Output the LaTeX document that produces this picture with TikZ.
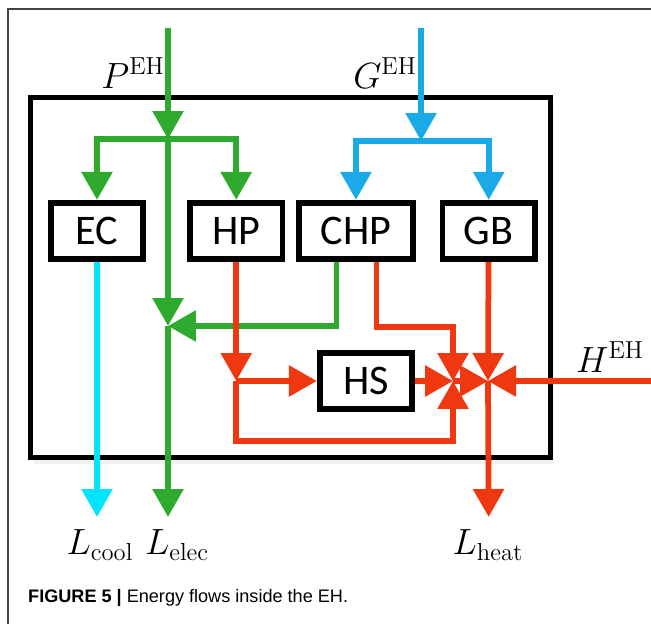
\documentclass[tikz,border=0pt]{standalone}
\usepackage{fontspec}
\usepackage{tikz}
\usetikzlibrary{arrows.meta, positioning, calc, shadows}
\newfontfamily\boxfont{Carlito}
\newfontfamily\capfont{Liberation Sans}
\definecolor{elecgreen}{HTML}{2EAB2E}
\definecolor{gasblue}{HTML}{1AAAE8}
\definecolor{coolcyan}{HTML}{00E5FF}
\definecolor{heatred}{HTML}{F03810}
\definecolor{framegray}{HTML}{444444}

\begin{document}
\begin{tikzpicture}[
    x=0.02cm, y=-0.02cm,
    hub/.style={draw, line width=0.1cm, minimum width=10.41cm, minimum height=7.2cm, fill=white,
        drop shadow={shadow xshift=0.06cm, shadow yshift=-0.14cm, fill=black!10}},
    unit/.style={draw, line width=0.115cm, minimum width=1.85cm, minimum height=1.13cm, inner sep=0pt,
        font=\boxfont\fontsize{24}{28}\selectfont},
    wideunit/.style={unit, minimum width=2.27cm},
    flow/.style={line width=0.115cm},
    arrow/.style={flow, -{Triangle[length=0.56cm, width=0.6cm]}},
    garrow/.style={arrow, draw=elecgreen},
    barrow/.style={arrow, draw=gasblue},
    carrow/.style={arrow, draw=coolcyan},
    rarrow/.style={arrow, draw=heatred},
    lbl/.style={font=\fontsize{20}{24}\selectfont},
    capt/.style={font=\capfont\fontsize{10.3}{12}\selectfont}
]
    \useasboundingbox (0,0) rectangle (651,624);
    \draw[framegray, line width=0.04cm] (8,624) -- (8,9.5) -- (651,9.5);

    \node[hub] (eh) at (290.75,277.5) {};

    \node[unit] (EC) at (97,231) {EC};
    \node[unit, right=0.82cm of EC] (HP) {HP};
    \node[wideunit, right=0.22cm of HP] (CHP) {CHP};
    \node[unit, right=0.48cm of CHP] (GB) {GB};
    \node[unit] (HS) at (366,381) {HS};

    \coordinate (pin) at (168,28);
    \coordinate (pj) at (168,139);
    \coordinate (gmid) at (168,326);
    \coordinate (gas) at (421,28);
    \coordinate (gj) at (421,141);
    \coordinate (j1) at (453,381);
    \coordinate (j2) at (488,381);
    \coordinate (hin) at (651,381);
    \coordinate (loop) at (0,441);
    \coordinate (chpturn) at (453,327);
    \coordinate (bot) at (0,517);
    \coordinate (chpg) at ($(CHP.south)+(-19.5,0)$);
    \coordinate (chpr) at ($(CHP.south)+(20.5,0)$);

    \draw[garrow] (pin) -- (pj);
    \draw[garrow] (pj) -| (EC);
    \draw[garrow] (pj) -| (HP);
    \draw[garrow] (pj) -- (gmid);
    \draw[garrow] (gmid) -- (pj |- bot);
    \draw[garrow] (chpg) |- (gmid);

    \draw[barrow] (gas) -- (gj);
    \draw[barrow] (gj) -| (CHP);
    \draw[barrow] (gj) -| (GB);

    \draw[carrow] (EC) -- (EC |- bot);

    \draw[rarrow] (HP) -- (HP |- j1);
    \draw[rarrow] (HP |- HS) -- (HS);
    \draw[rarrow] (HP |- j1) -- (HP |- loop) -| (j1);
    \draw[rarrow] (HS) -- (j1);
    \draw[rarrow] (chpr) |- (chpturn) -- (j1);
    \draw[rarrow] (j1) -- (j2);
    \draw[rarrow] (GB) -- (j2);
    \draw[rarrow] (hin) -- (j2);
    \draw[rarrow] (j2) -- (GB |- bot);

    \node[lbl] (pl) at (133,73) {$P^{\mathrm{EH}}$};
    \node[lbl] (gl) at (385,73) {$G^{\mathrm{EH}}$};
    \node[lbl] (hl) at (610,357) {$H^{\mathrm{EH}}$};
    \node[lbl] (lcl) at (100,545) {$L_{\mathrm{cool}}$};
    \node[lbl] (lel) at (177,545) {$L_{\mathrm{elec}}$};
    \node[lbl] (lhl) at (488,545) {$L_{\mathrm{heat}}$};

    \node[capt, anchor=west] (cap) at (22,598) {\textbf{FIGURE 5 |} Energy flows inside the EH.};
\end{tikzpicture}
\end{document}
